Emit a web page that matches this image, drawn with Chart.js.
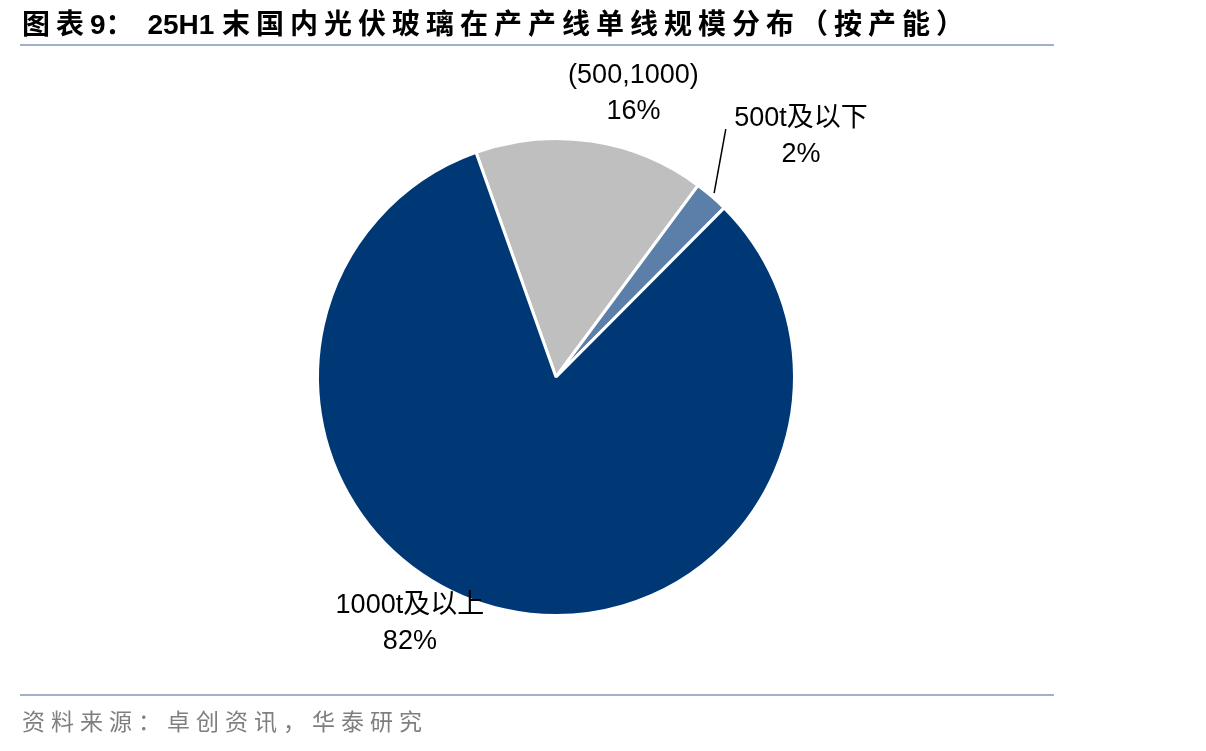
<!DOCTYPE html>
<html>
<head>
<meta charset="utf-8">
<script src="https://cdn.jsdelivr.net/npm/chart.js"></script>
<style>
  html, body { margin: 0; padding: 0; background: #fff; }
  #wrap { position: relative; width: 1206px; height: 751px; overflow: hidden; }
  #title { position: absolute; left: 22px; top: 2px; font: bold 28px "Liberation Sans", "Noto Sans CJK SC", sans-serif; color: #000; letter-spacing: 6px; white-space: nowrap; }
  #title .lat { letter-spacing: 0; }
  .rule { position: absolute; left: 20px; width: 1034px; height: 2px; background: #9cb3cb; }
  #source { position: absolute; left: 22px; top: 703px; font: 23px "Noto Sans CJK SC", sans-serif; color: #7f7f7f; letter-spacing: 6px; white-space: nowrap; }
  #chart { position: absolute; left: 0; top: 0; }
</style>
</head>
<body>
<div id="wrap">
  <canvas id="chart" width="1206" height="751"></canvas>
  <div id="title">图表<span class="lat">9</span>：<span class="lat"> 25H1 </span>末国内光伏玻璃在产产线单线规模分布（按产能）</div>
  <div class="rule" style="top:44px"></div>
  <div class="rule" style="top:694px"></div>
  <div id="source">资料来源：卓创资讯，华泰研究</div>
</div>
<script>
// 单线规模分布（按产能），顺时针从 (500,1000) 开始
const categories = ['(500,1000)', '500t及以下', '1000t及以上'];
const shares = [15.6, 2.3, 82.1];
const colors = ['#bfbfbf', '#5b7fa8', '#003876'];

// label placement: angle (deg from top, clockwise) and distance as fraction of radius
const labelSpots = [
  { ang: 15.3, dist: 1.23, leader: false },
  { ang: 45.5, dist: 1.44, leader: true },
  { ang: 210.7, dist: 1.20, leader: false }
];

const pieLabels = {
  id: 'pieLabels',
  afterDraw(chart) {
    const ctx = chart.ctx;
    const meta = chart.getDatasetMeta(0);
    const total = shares.reduce((a, b) => a + b, 0);
    meta.data.forEach((arc, i) => {
      const cx = arc.x, cy = arc.y, r = arc.outerRadius;
      const spot = labelSpots[i];
      const a = spot.ang * Math.PI / 180;
      const lx = cx + Math.sin(a) * r * spot.dist;
      const ly = cy - Math.cos(a) * r * spot.dist;

      if (spot.leader) {
        const mid = (arc.startAngle + arc.endAngle) / 2;
        const x0 = cx + Math.cos(mid) * (r + 4);
        const y0 = cy + Math.sin(mid) * (r + 4);
        const b = 34.4 * Math.PI / 180;
        ctx.save();
        ctx.strokeStyle = '#000';
        ctx.lineWidth = 1.5;
        ctx.beginPath();
        ctx.moveTo(x0, y0);
        ctx.lineTo(cx + Math.sin(b) * r * 1.26, cy - Math.cos(b) * r * 1.26);
        ctx.stroke();
        ctx.restore();
      }

      ctx.save();
      ctx.fillStyle = '#000';
      ctx.textAlign = 'center';
      ctx.textBaseline = 'middle';
      ctx.font = '27px "Liberation Sans", "Noto Sans CJK SC", sans-serif';
      ctx.fillText(categories[i], lx, ly - 18);
      ctx.fillText(Math.round(shares[i] / total * 100) + '%', lx, ly + 18);
      ctx.restore();
    });
  }
};

const ctx = document.getElementById('chart').getContext('2d');
new Chart(ctx, {
  type: 'pie',
  data: {
    labels: categories,
    datasets: [{
      data: shares,
      backgroundColor: colors,
      borderColor: '#ffffff',
      borderWidth: 3
    }]
  },
  options: {
    responsive: false,
    animation: false,
    rotation: -19.6,
    layout: { padding: { left: 316, right: 410, top: 137, bottom: 134 } },
    plugins: {
      legend: { display: false },
      tooltip: { enabled: false }
    }
  },
  plugins: [pieLabels]
});
</script>
</body>
</html>
